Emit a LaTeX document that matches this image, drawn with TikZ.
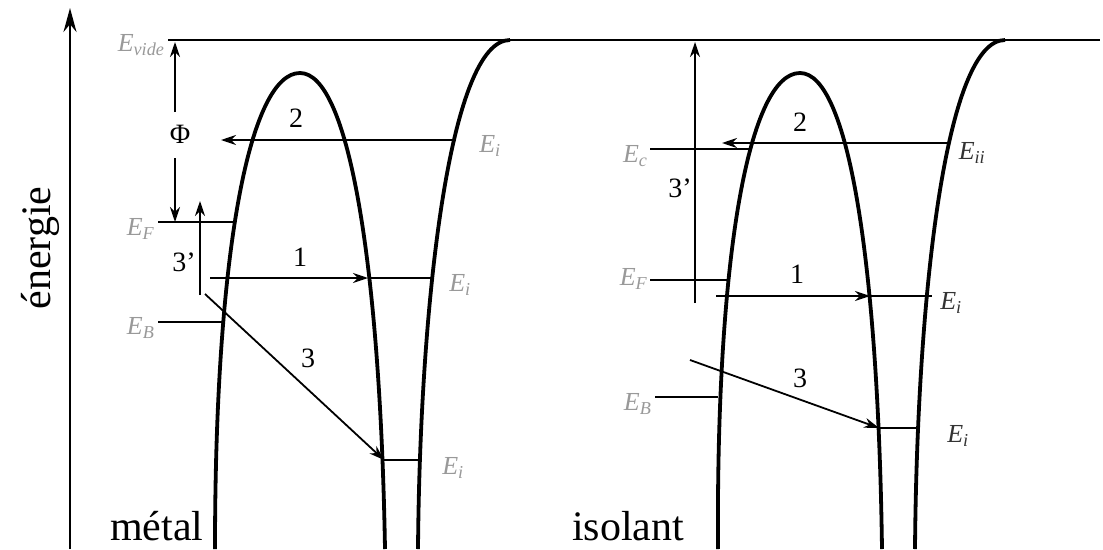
\documentclass[tikz,border=0pt]{standalone}
\usepackage{fontspec}
\setmainfont{Liberation Serif}
\usetikzlibrary{arrows.meta}
\newcommand{\Elev}[1]{\textit{E}\textsubscript{\textit{#1}}}
\begin{document}
\begin{tikzpicture}[x=1pt,y=-1pt,
  well/.style={line width=3.8pt},
  lvl/.style={line width=1.8pt},
  arr/.style={line width=1.8pt,-{Stealth[length=15pt,width=10pt]}},
  elab/.style={font=\fontsize{26}{28}\selectfont, text=black!40},
  elabd/.style={font=\fontsize{26}{28}\selectfont, text=black!80},
  num/.style={font=\fontsize{28}{30}\selectfont},
  big/.style={font=\fontsize{42}{44}\selectfont}]
\useasboundingbox (0,0) rectangle (1103,549);
% axis
\coordinate (ax0) at (70,549);
\coordinate (ax1) at (70,8);
\draw[line width=2.4pt,-{Stealth[length=24pt,width=13pt]}] (ax0) -- (ax1);
\node[big,rotate=90] (energ) at (40,248) {énergie};
% vacuum level
\coordinate (vL) at (168,40);
\coordinate (vR) at (1100,40);
\draw[line width=2pt] (vL) -- (vR);
\node[elab,anchor=east] (Evide) at (168,45) {\Elev{vide}};
% ---------- metal ----------
\draw[well] (215,549) .. controls (215,250) and (250,73) .. (300,73)
            .. controls (348,73) and (380,260) .. (385,549);
\draw[well] (418,549) .. controls (420,300) and (450,40) .. (510,40);
% Phi
\node[num] (phi) at (180,134) {Φ};
\coordinate (phiT) at (175,112);
\coordinate (phiTe) at (175,42);
\coordinate (phiB) at (175,158);
\coordinate (phiBe) at (175,222);
\draw[arr] (phiT) -- (phiTe);
\draw[arr] (phiB) -- (phiBe);
% E_F
\coordinate (mEF1) at (158,222);
\coordinate (mEF2) at (235,222);
\draw[lvl] (mEF1) -- (mEF2);
\node[elab,anchor=east] (mEFl) at (158,229) {\Elev{F}};
% 3'
\coordinate (m3a) at (200,295);
\coordinate (m3b) at (200,201);
\draw[arr] (m3a) -- (m3b);
\node[num] (m3pl) at (184,262) {3’};
% 1
\coordinate (m1a) at (210,278);
\coordinate (m1b) at (368,278);
\draw[arr] (m1a) -- (m1b);
\node[num] (m1l) at (300,257) {1};
\coordinate (m1c) at (370,278);
\coordinate (m1d) at (431,278);
\draw[lvl] (m1c) -- (m1d);
\node[elab] (m1E) at (460,285) {\Elev{i}};
% E_B
\coordinate (mEB1) at (158,322);
\coordinate (mEB2) at (222,322);
\draw[lvl] (mEB1) -- (mEB2);
\node[elab,anchor=east] (mEBl) at (158,328) {\Elev{B}};
% 3
\coordinate (m3s) at (205,294);
\coordinate (m3e) at (384,460);
\draw[arr] (m3s) -- (m3e);
\node[num] (m3l) at (308,358) {3};
\coordinate (mbl1) at (383,460);
\coordinate (mbl2) at (419,460);
\draw[lvl] (mbl1) -- (mbl2);
\node[elab] (mbE) at (453,468) {\Elev{i}};
% 2
\coordinate (m2a) at (456,140);
\coordinate (m2b) at (221,140);
\draw[arr] (m2a) -- (m2b);
\node[num] (m2l) at (296,118) {2};
\node[elab] (m2E) at (490,146) {\Elev{i}};
% ---------- isolant ----------
\draw[well] (718,549) .. controls (716,250) and (750,73) .. (800,73)
            .. controls (848,73) and (878,260) .. (882,549);
\draw[well] (915,549) .. controls (917,300) and (945,40) .. (1005,40);
% 3'
\coordinate (i3a) at (695,303);
\coordinate (i3b) at (695,42);
\draw[arr] (i3a) -- (i3b);
\node[num] (i3pl) at (680,188) {3’};
% E_c
\coordinate (iEc1) at (650,149);
\coordinate (iEc2) at (750,149);
\draw[lvl] (iEc1) -- (iEc2);
\node[elab,anchor=east] (iEcl) at (651,156) {\Elev{c}};
% 2
\coordinate (i2a) at (948,143);
\coordinate (i2b) at (722,143);
\draw[arr] (i2a) -- (i2b);
\node[num] (i2l) at (800,122) {2};
\node[elabd] (i2E) at (972,153) {\Elev{ii}};
% E_F
\coordinate (iEF1) at (650,280);
\coordinate (iEF2) at (727,280);
\draw[lvl] (iEF1) -- (iEF2);
\node[elab,anchor=east] (iEFl) at (651,279) {\Elev{F}};
% 1
\coordinate (i1a) at (716,296);
\coordinate (i1b) at (870,296);
\draw[arr] (i1a) -- (i1b);
\node[num] (i1l) at (797,274) {1};
\coordinate (i1c) at (870,296);
\coordinate (i1d) at (932,296);
\draw[lvl] (i1c) -- (i1d);
\node[elabd] (i1E) at (951,303) {\Elev{i}};
% E_B
\coordinate (iEB1) at (655,397);
\coordinate (iEB2) at (718,397);
\draw[lvl] (iEB1) -- (iEB2);
\node[elab,anchor=east] (iEBl) at (655,404) {\Elev{B}};
% 3
\coordinate (i3s) at (690,360);
\coordinate (i3e) at (879,428);
\draw[arr] (i3s) -- (i3e);
\node[num] (i3l) at (800,378) {3};
\coordinate (ibl1) at (878,428);
\coordinate (ibl2) at (918,428);
\draw[lvl] (ibl1) -- (ibl2);
\node[elabd] (ibE) at (958,436) {\Elev{i}};
% bottom labels
\node[big,anchor=base west,inner sep=0pt] (metal) at (110,540) {métal};
\node[big,anchor=base west,inner sep=0pt] (isol) at (572,540) {isolant};
\end{tikzpicture}
\end{document}
